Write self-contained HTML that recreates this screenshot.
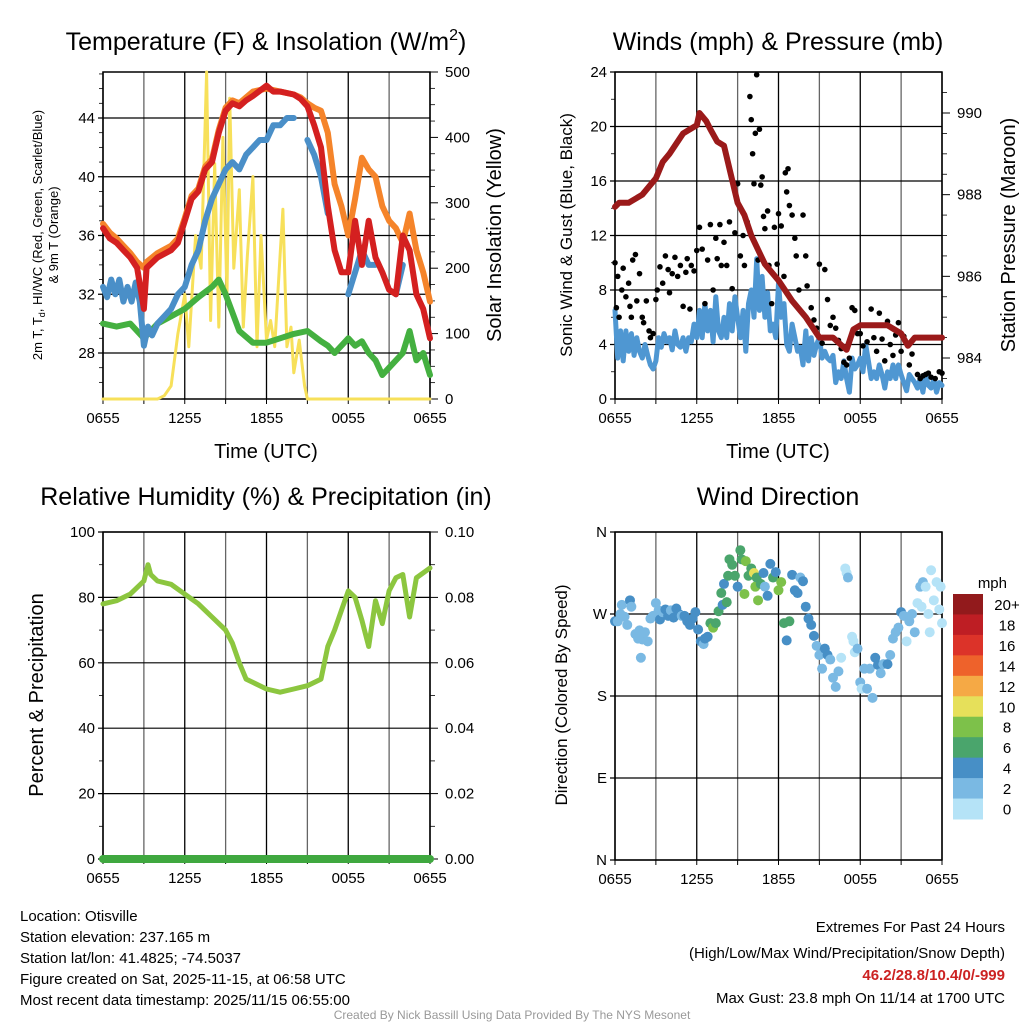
<!DOCTYPE html>
<html><head><meta charset="utf-8"><style>
html,body{margin:0;padding:0;background:#fff;}
svg{display:block;font-family:"Liberation Sans",sans-serif;}
</style></head><body>
<svg id="s" width="1024" height="1024" viewBox="0 0 1024 1024">
<g id="g"></g>
<text x="266" y="50" font-size="25" text-anchor="middle">Temperature (F) &amp; Insolation (W/m<tspan font-size="16" dy="-10">2</tspan><tspan dy="10">)</tspan></text>
<text x="778" y="50" font-size="25" text-anchor="middle">Winds (mph) &amp; Pressure (mb)</text>
<text x="266" y="505" font-size="25" text-anchor="middle">Relative Humidity (%) &amp; Precipitation (in)</text>
<text x="778" y="505" font-size="25" text-anchor="middle">Wind Direction</text>
<text x="266" y="458" font-size="20" text-anchor="middle">Time (UTC)</text>
<text x="778" y="458" font-size="20" text-anchor="middle">Time (UTC)</text>
<text transform="translate(42,235) rotate(-90)" font-size="13" text-anchor="middle">2m T, T<tspan font-size="9" dy="3">d</tspan><tspan dy="-3">, HI/WC (Red, Green, Scarlet/Blue)</tspan></text>
<text transform="translate(58,235) rotate(-90)" font-size="13" text-anchor="middle">&amp; 9m T (Orange)</text>
<text transform="translate(501,235) rotate(-90)" font-size="20" text-anchor="middle">Solar Insolation (Yellow)</text>
<text transform="translate(572,235) rotate(-90)" font-size="17" text-anchor="middle">Sonic Wind &amp; Gust (Blue, Black)</text>
<text transform="translate(1015,235) rotate(-90)" font-size="20" text-anchor="middle">Station Pressure (Maroon)</text>
<text transform="translate(43,695) rotate(-90)" font-size="20" text-anchor="middle">Percent &amp; Precipitation</text>
<text transform="translate(567,695) rotate(-90)" font-size="17" text-anchor="middle">Direction (Colored By Speed)</text>
<text x="1007" y="588" font-size="15" text-anchor="end">mph</text>
<g font-size="15">
<text x="20" y="921">Location: Otisville</text>
<text x="20" y="942">Station elevation: 237.165 m</text>
<text x="20" y="963">Station lat/lon: 41.4825; -74.5037</text>
<text x="20" y="984">Figure created on Sat, 2025-11-15, at 06:58 UTC</text>
<text x="20" y="1005">Most recent data timestamp: 2025/11/15 06:55:00</text>
</g>
<g font-size="15" text-anchor="end">
<text x="1005" y="932">Extremes For Past 24 Hours</text>
<text x="1005" y="958">(High/Low/Max Wind/Precipitation/Snow Depth)</text>
<text x="1005" y="980" fill="#cc2222" font-weight="bold">46.2/28.8/10.4/0/-999</text>
<text x="1005" y="1003">Max Gust: 23.8 mph On 11/14 at 1700 UTC</text>
</g>
<text x="512" y="1019" font-size="12" fill="#999" text-anchor="middle">Created By Nick Bassill Using Data Provided By The NYS Mesonet</text>
</svg>
<script>
const xLabels=["0655","1255","1855","0055","0655"];
const tRedH=[0,0.5,1,1.5,2,2.5,3,3.2,4,5,5.5,6,6.5,7,7.5,8,8.5,9,9.5,10,10.5,11,12,12.5,13,14,14.5,15,15.5,16,16.5,17,17.5,18,18.5,19,19.5,20,20.5,21,21.5,22,22.5,23,23.5,24];
const tRedV=[36.5,35.8,35.5,35,34.5,33.8,31,33.8,34.5,35,35.5,37,38.5,39,40.5,41,43,44.5,45,44.8,45.2,45.5,46.2,45.8,45.8,45.6,45.3,44.8,43.5,42,38,35,33.5,33.5,37,34,37,34.5,33.5,32.3,32,36,35,32,31,29];
const tOrH=[0,0.5,1,1.5,2,2.5,3,3.2,4,5,5.5,6,6.5,7,7.5,8,8.5,9,9.5,10,10.5,11,12,12.5,13,14,14.5,15,15.5,16,16.5,17,17.5,18,18.5,19,19.5,20,20.5,21,21.5,22,22.5,23,23.5,24];
const tOrV=[36.8,36.2,35.8,35.3,34.8,34.2,33.8,34.2,34.8,35.3,35.8,37.2,38.7,39.2,40.7,41.2,43.2,44.7,45.2,45,45.4,45.8,46,45.9,45.8,45.6,45.4,45,44.7,44.5,43,39.5,38,36,38.5,41.3,40.5,40,38,37,36.5,35.5,37.5,35,33.5,31.5];
const tBlH=[0,0.3,0.6,0.9,1.2,1.5,1.8,2.1,2.4,2.7,3,3.3,3.6,4,4.5,5,5.5,6,6.5,7,7.5,8,8.5,9,9.5,10,10.5,11,11.5,12,12.5,13,13.5,14,14.5,15,15.5,16,16.5,17,17.5,18,18.5,19,19.5,20,20.5,21,21.5,22];
const tBlV=[32.5,31.8,33,32,33,31.5,32.5,31.5,32.8,31.5,28.5,29.8,29.2,30,30.5,31,32,32.5,34,35,37,38.5,39.5,40.5,41,40.5,41.5,42,42.5,42.5,43.5,43.5,44,44,null,42.5,41.5,40,37.5,null,null,32,33.5,35,34,34,null,null,32,34];
const tGrH=[0,1,2,2.5,3,3.5,4,5,6,7,8,8.5,9,10,11,12,13,14,15,16,16.5,17,18,18.5,19,19.5,20,20.5,21,22,22.5,23,23.5,24];
const tGrV=[30,29.8,30,29.5,29,29.5,30,30.5,31,31.8,32.5,33,32,29.5,28.7,28.7,29,29.3,29.5,28.8,28.5,28,29,28.5,28.8,28,27.5,26.5,27,28,29.5,27.5,28,26.5];
const solH=[0,4,4.5,5,5.5,6,6.3,6.8,7.2,7.6,7.9,8.2,8.5,8.8,9.1,9.3,9.6,10,10.3,10.6,11,11.3,11.6,12,12.3,12.6,13,13.2,13.5,13.8,14,14.4,14.8,15,24];
const solV=[0,0,5,20,100,160,80,250,200,500,120,360,110,400,160,460,200,320,110,220,340,80,250,90,120,80,220,290,80,110,40,90,20,0,0];
const windH=[0,0.2,0.4,0.6,0.8,1,1.2,1.4,1.6,1.8,2,2.2,2.4,2.6,2.8,3,3.2,3.4,3.6,3.8,4,4.2,4.4,4.6,4.8,5,5.2,5.4,5.6,5.8,6,6.2,6.4,6.6,6.8,7,7.2,7.4,7.6,7.8,8,8.2,8.4,8.6,8.8,9,9.2,9.4,9.6,9.8,10,10.2,10.4,10.6,10.8,11,11.2,11.4,11.6,11.8,12,12.2,12.4,12.6,12.8,13,13.2,13.4,13.6,13.8,14,14.2,14.4,14.6,14.8,15,15.2,15.4,15.6,15.8,16,16.2,16.4,16.6,16.8,17,17.2,17.4,17.6,17.8,18,18.2,18.4,18.6,18.8,19,19.2,19.4,19.6,19.8,20,20.2,20.4,20.6,20.8,21,21.2,21.4,21.6,21.8,22,22.2,22.4,22.6,22.8,23,23.2,23.4,23.6,23.8,24];
const windV=[6.5,3,5,2.8,5,3.5,4.8,3.2,4.5,3.5,3,4,3.2,2.5,2.2,2.8,4.5,3.8,4.8,4.2,4.5,3.6,5,4,3.8,4.5,3.5,4.5,4.2,5.5,4.5,6.5,4.5,7,5,6.5,4.2,7.5,5,4.5,6,4.5,7,5,7.5,6,4.5,6.5,3.5,7,8,6,10.3,6.5,9,6,7.8,5,5.5,4.5,8.5,6,7,4,3.5,5.5,4.5,3.5,3.8,2.5,5,2.8,4.5,3.2,4,4.5,3,3.5,3,2.8,3.2,1.2,2,1.5,2.8,1.5,0.5,3,2.2,2.5,3,2,4,2.8,1.5,2,1.5,2.5,1.8,0.8,2,1.5,2.5,1.5,2.5,1.8,1.2,0.6,1.8,1.5,1.2,0.8,1.5,0.5,1.8,1,0.8,1.5,0.5,1.2,1];
const gustH=[0,0.1,0.2,0.3,0.5,0.6,0.8,1,1.1,1.2,1.3,1.5,1.6,1.8,2,2.1,2.3,2.5,2.6,2.8,3,3.1,3.3,3.5,3.7,3.9,4,4.2,4.4,4.6,4.8,5,5.2,5.3,5.5,5.6,5.8,6,6.2,6.4,6.6,6.8,7,7.2,7.4,7.5,7.7,7.8,8,8.2,8.4,8.6,8.8,9,9.2,9.4,9.5,9.7,9.9,10,10.1,10.2,10.3,10.4,10.5,10.6,10.7,10.8,10.9,11,11.2,11.3,11.5,11.7,11.9,12,12.2,12.4,12.5,12.6,12.7,12.8,13,13.2,13.3,13.5,13.8,14,14.1,14.4,14.6,14.8,15,15.2,15.4,15.6,15.8,16,16.2,16.4,16.6,16.8,17,17.2,17.4,17.6,17.8,18,18.2,18.5,18.8,19,19.2,19.4,19.6,19.8,20,20.2,20.4,20.6,20.8,21,21.2,21.4,21.6,21.8,22,22.2,22.4,22.6,22.8,23,23.2,23.5,23.8,24];
const gustV=[10,6.7,9,6,8,9.6,7.5,8.5,6.8,6,10.2,10.6,7.2,9.2,6,5.6,7.2,5,4.5,4.8,7.3,8,9.7,8.5,10.5,9.5,7.8,9.2,10.4,9,9.8,6.8,9.3,10.3,6.6,9.8,9.4,10.9,12.6,11,7,10.2,12.8,8,11.8,10.3,12.8,9.8,11.5,9.8,13,8.1,12.2,15.8,10.5,12,9.8,13,22.2,20.5,18,15.8,19.5,23.8,10.2,19.8,15.7,16.3,13.4,12.5,13.8,9.8,7,12.6,9.9,13.6,12.7,9,16.6,15.2,16.9,14.2,13.5,11.8,10.5,8,13.5,10.5,8.3,6.7,5.8,5.2,9.9,4.1,9.5,7.3,5.4,6,5.2,4.3,3.7,2.7,2.5,3,6.7,6.5,4.8,4.8,3.9,4.2,6.6,4.5,3.5,6.3,4.4,2.8,5.7,4,3.2,4.7,5.6,3.5,4.6,4.1,2.5,3.3,4.5,1.8,1.5,1.7,1.8,1.9,1.6,1.5,2,1.9];
const presH=[0,0.3,1,2,3,3.5,4,5,6,6.2,6.7,7,7.5,8,8.5,9,9.5,10,11,12,13,14,15,16,17,17.5,18,19,20,21,21.5,22,24];
const presV=[987.7,987.8,987.8,988,988.4,988.8,989,989.5,989.7,990,989.8,989.6,989.3,989.2,988.5,987.8,987.5,987,986.3,985.9,985.4,985,984.5,984.5,984.2,984.7,984.8,984.8,984.8,984.6,984.3,984.5,984.5];
const rhH=[0,1,2,3,3.3,3.5,4,5,6,7,8,9,9.5,10,10.5,11,12,13,14,15,16,16.5,17,17.5,18,18.5,19,19.5,20,20.5,21,21.5,22,22.5,23,24];
const rhV=[78,79,81,85,90,87,85,84,81,78,74,70,66,60,55,54,52,51,52,53,55,65,70,76,82,80,73,65,79,72,82,86,87,74,86,89];
const precipH=[0,24];
const precipV=[0,0];
const dirH=[0,0.2,0.4,0.5,0.7,0.9,1.1,1.2,1.5,1.7,1.8,1.9,2,2.2,2.4,2.6,2.8,3,3.2,3.3,3.5,3.7,3.9,4.1,4.3,4.5,4.7,4.9,5.1,5.3,5.5,5.7,5.9,6.1,6.3,6.5,6.6,6.8,7,7.2,7.4,7.6,7.8,7.9,8,8.2,8.3,8.4,8.6,8.8,9,9.2,9.3,9.5,9.6,9.8,10,10.2,10.3,10.4,10.5,10.7,10.9,11,11.2,11.4,11.6,11.8,12,12.2,12.4,12.6,12.8,13,13.2,13.4,13.6,13.8,14,14.2,14.4,14.6,14.8,15,15.2,15.4,15.6,15.8,16,16.2,16.4,16.6,16.9,17,17.1,17.4,17.5,17.6,17.8,18,18.1,18.3,18.5,18.7,18.9,19.1,19.3,19.5,19.7,20,20.2,20.4,20.6,20.8,21,21.2,21.4,21.6,21.8,22,22.2,22.4,22.5,22.6,22.8,23,23.1,23.2,23.4,23.6,23.8,23.9,24];
const dirDeg=[262,262,270,280,267,258,285,278,248,243,252,222,242,250,240,265,268,282,274,264,272,275,268,274,266,276,270,268,268,262,258,265,272,253,240,237,243,245,260,255,260,273,293,280,303,283,312,330,324,312,300,340,330,292,328,312,320,315,300,310,285,303,315,300,290,325,310,316,296,305,260,241,262,313,296,293,310,306,278,265,258,246,235,225,210,232,225,220,200,190,207,222,320,315,310,245,240,228,232,195,188,210,188,210,178,222,214,205,215,215,225,243,250,255,272,268,240,262,270,250,282,300,278,305,300,270,250,318,285,305,275,300,260];
const dirSpd=[5,3,3,2,3,3,4,2,3,3,2,2,3,2,2,2,2,2,3,4,3,4,4,3,4,4,4,3,4,4,4,4,5,4,4,3,4,4,6,8,6,6,6,4,4,6,6,6,6,6,5,6,6,8,8,6,6,10,8,6,8,6,4,2,4,4,6,5,8,8,6,4,6,4,4,4,2,4,4,5,4,4,2,2,2,4,4,2,2,2,2,1,0,1,2,1,1,1,2,2,1,2,2,2,2,4,4,2,2,4,2,3,2,3,4,2,1,3,2,2,1,2,0,2,0,1,0,1,1,1,0,1,1];
const cbLabels=["20+","18","16","14","12","10","8","6","4","2","0"];
const cbColors=["#921a1c","#be1e24","#dc3329","#ee622b","#f5a945","#e6e05a","#7dc14a","#4aa56c","#478fc6","#7ab9e3","#b5e3f7"];

const NS="http://www.w3.org/2000/svg";
const G=document.getElementById('g');
function mk(tag,at,parent){const e=document.createElementNS(NS,tag);for(const k in at)e.setAttribute(k,at[k]);(parent||G).appendChild(e);return e;}
const X0=103,X1=430,X0b=615,X1b=942;
function xs(h,L){return L+h*(327/24);}
function lin(d0,d1,p0,p1){return v=>p0+(v-d0)/(d1-d0)*(p1-p0);}
function spdColor(s){let i=Math.min(10,Math.floor(s/2));return cbColors[10-i];}

function frame(L,T,B,name){
  const g=mk('g',{});
  
  
  for(let i=0;i<=8;i++){const x=L+i*327/8;mk('line',{x1:x,x2:x,y1:T,y2:B,stroke:'#000','stroke-width':1.3,opacity:i%2?0.6:1},g);
    mk('line',{x1:x,x2:x,y1:B,y2:B+5,stroke:'#000'},g);}
  for(let i=0;i<5;i++){const t=mk('text',{x:L+i*327/4,y:B+24,'font-size':15,'text-anchor':'middle'},g);t.textContent=xLabels[i];
    
    }
  mk('rect',{x:L,y:T,width:327,height:B-T,fill:'none',stroke:'#000','stroke-width':1.5},g);
}
function hgrid(L,ys,labels,name,right,rlabels,rys,minorL,minorR){
  for(let i=0;i<ys.length;i++){mk('line',{x1:L-5,x2:L+327,y1:ys[i],y2:ys[i],stroke:'#000','stroke-width':1.2});
    const t=mk('text',{x:L-8,y:ys[i]+5,'font-size':15,'text-anchor':'end'});t.textContent=labels[i];
    
    }
  if(rlabels)for(let i=0;i<rys.length;i++){mk('line',{x1:L+327,x2:L+335,y1:rys[i],y2:rys[i],stroke:'#000'});
    const t=mk('text',{x:L+342,y:rys[i]+5,'font-size':15});t.textContent=rlabels[i];
    
    }
  (minorL||[]).forEach(y=>mk('line',{x1:L-4,x2:L,y1:y,y2:y,stroke:'#000','stroke-width':0.8}));
  (minorR||[]).forEach(y=>mk('line',{x1:L+327,x2:L+332,y1:y,y2:y,stroke:'#000','stroke-width':0.8}));
}
function path(H,V,L,ys,color,w,name){
  let d='',pen=false;
  for(let i=0;i<H.length;i++){if(V[i]==null){pen=false;continue;}
    d+=(pen?'L':'M')+xs(H[i],L).toFixed(1)+','+ys(V[i]).toFixed(1);pen=true;}
  const p=mk('path',{d:d,fill:'none',stroke:color,'stroke-width':w,'stroke-linejoin':'round','stroke-linecap':'round'});
  
  
}
const yT=lin(28,44,353,118), yS=lin(0,500,399,72);
frame(X0,72,399,'temp');
const tv=[28,32,36,40,44];
const minT=[];for(let v=26;v<=47;v++)if(v%4)minT.push(yT(v));
const minS=[];for(let v=25;v<=500;v+=25)if(v%100)minS.push(yS(v));
hgrid(X0,tv.map(yT),tv.map(String),'temp-y',true,["0","100","200","300","400","500"],[0,100,200,300,400,500].map(yS),minT,minS);
path(solH,solV,X0,yS,'#f7e05a',3,'solar-line');
path(tGrH,tGrV,X0,yT,'#44b040',6,'dewpoint-line');
path(tBlH,tBlV,X0,yT,'#4a8fc8',6,'windchill-line');
path(tOrH,tOrV,X0,yT,'#f5842a',6,'temp-9m-line');
path(tRedH,tRedV,X0,yT,'#d42020',6,'temp-2m-line');
const yW=lin(0,24,399,72), yP=lin(984,990,358,113);
frame(X0b,72,399,'wind');
const wv=[0,4,8,12,16,20,24];
const minW=[];for(let v=2;v<24;v+=4)minW.push(yW(v));
const minP=[];for(let v=983.5;v<991;v+=0.5)if(v%2)minP.push(yP(v));
hgrid(X0b,wv.map(yW),wv.map(String),'wind-y',true,["984","986","988","990"],[984,986,988,990].map(yP),minW,minP);
path(windH,windV,X0b,yW,'#4f97d2',5,'sustained-wind-line');
for(let i=0;i<gustH.length;i++){const c=mk('circle',{cx:xs(gustH[i],X0b),cy:yW(gustV[i]),r:2.8,fill:'#000'});
  
  }
path(presH,presV,X0b,yP,'#9b1a1a',6,'pressure-line');
const yR=lin(0,100,859,532);
frame(X0,532,859,'rh');
const rv=[0,20,40,60,80,100];
const minR=[];for(let v=10;v<100;v+=20)minR.push(yR(v));
hgrid(X0,rv.map(yR),rv.map(String),'rh-y',true,["0.00","0.02","0.04","0.06","0.08","0.10"],rv.map(yR),minR,minR);
path(rhH,rhV,X0,yR,'#8cc63f',5,'rh-line');
path(precipH,precipV,X0,v=>yR(v*1000),'#3fa83f',8,'precip-line');
const yD=lin(0,360,860,532);
frame(X0b,532,860,'wdir');
hgrid(X0b,[0,90,180,270,360].map(yD),["N","E","S","W","N"],'wdir-y',false);
for(let i=0;i<dirH.length;i++){const c=mk('circle',{cx:xs(dirH[i],X0b),cy:yD(dirDeg[i]),r:5,fill:spdColor(dirSpd[i])});
  
  }
for(let i=0;i<cbColors.length;i++){const y=594+i*225/11;
  const r=mk('rect',{x:953,y:y,width:30,height:225/11+0.5,fill:cbColors[i]});
  
  
  const t=mk('text',{x:1007,y:y+16,'font-size':15,'text-anchor':'middle'});t.textContent=cbLabels[i];
  
  }
</script>
</body></html>
